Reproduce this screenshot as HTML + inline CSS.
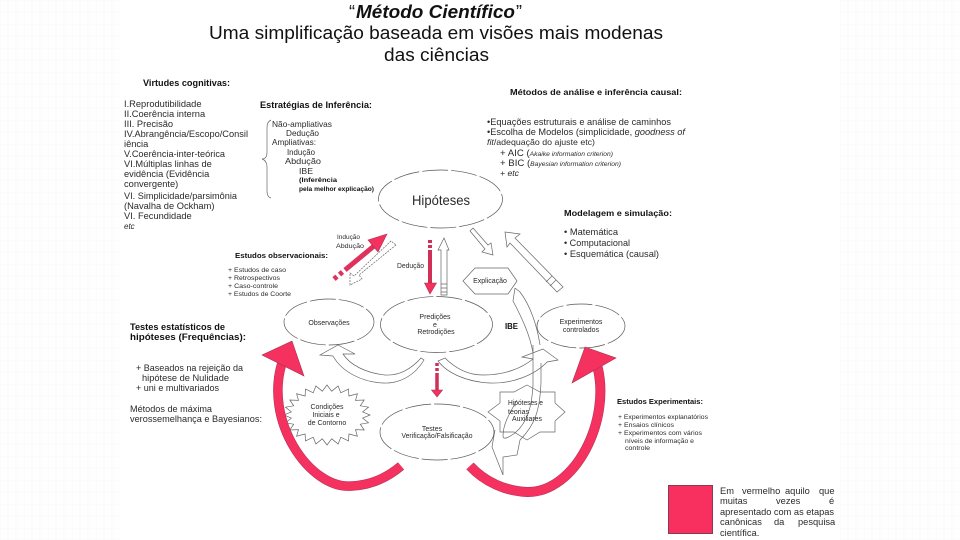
<!DOCTYPE html>
<html lang="pt"><head><meta charset="utf-8"><title>Método Científico</title>
<style>
html,body{margin:0;padding:0;width:960px;height:540px;overflow:hidden;background:#fff}
svg{display:block;filter:blur(.3px)}
text{font-family:"Liberation Sans",sans-serif;fill:#2a2a2a}
.b{font-weight:bold;fill:#111}
.s{stroke:#666;stroke-width:.7;fill:none}
.w{stroke:#666;stroke-width:.7;fill:#fff}
.e{stroke:#555;stroke-width:.7;fill:#fff;stroke-dasharray:26 3}
.r{fill:#f4315f;stroke:#a83353;stroke-width:.6}
.t9{font-size:9.3px}.t7{font-size:7px}.t6{font-size:6.5px}
</style></head><body>
<svg width="960" height="540" viewBox="0 0 960 540" xmlns="http://www.w3.org/2000/svg">
<defs><pattern id="g" width="24" height="24" patternUnits="userSpaceOnUse"><rect width="24" height="24" fill="#fefefe"/><path d="M0 0V24M8 0V24M16 0V24M0 0H24M0 12H24" stroke="#f9f9f9" stroke-width="1"/></pattern></defs>
<rect width="960" height="540" fill="#fff"/>
<rect x="0" y="0" width="120" height="540" fill="url(#g)"/>
<rect x="840" y="0" width="120" height="540" fill="url(#g)"/>

<!-- title -->
<text x="349" y="18" font-size="18" style="fill:#111">“</text>
<text x="356" y="18" font-size="18.5" font-weight="bold" font-style="italic" textLength="159" lengthAdjust="spacingAndGlyphs" style="fill:#111">Método Científico</text>
<text x="516" y="18" font-size="18" style="fill:#111">”</text>
<text x="209" y="39" font-size="18.5" textLength="454" lengthAdjust="spacingAndGlyphs" style="fill:#111">Uma simplificação baseada em visões mais modenas</text>
<text x="384" y="61" font-size="18.5" textLength="105" lengthAdjust="spacingAndGlyphs" style="fill:#111">das ciências</text>

<!-- Virtudes -->
<text class="b" x="143" y="86" font-size="9" textLength="87" lengthAdjust="spacingAndGlyphs">Virtudes cognitivas:</text>
<g class="t9">
<text x="124" y="107">I.Reprodutibilidade</text>
<text x="124" y="117">II.Coerência interna</text>
<text x="124" y="127">III. Precisão</text>
<text x="124" y="137" textLength="124" lengthAdjust="spacingAndGlyphs">IV.Abrangência/Escopo/Consil</text>
<text x="124" y="147">iência</text>
<text x="124" y="157" textLength="101" lengthAdjust="spacingAndGlyphs">V.Coerência-inter-teórica</text>
<text x="124" y="167">VI.Múltiplas linhas de</text>
<text x="124" y="177">evidência (Evidência</text>
<text x="124" y="187">convergente)</text>
<text x="124" y="199" textLength="113" lengthAdjust="spacingAndGlyphs">VI. Simplicidade/parsimônia</text>
<text x="124" y="209">(Navalha de Ockham)</text>
<text x="124" y="219">VI. Fecundidade</text>
<text x="124" y="229" font-style="italic" font-size="8">etc</text>
</g>

<!-- Estrategias -->
<text class="b" x="260" y="108" font-size="9" textLength="112" lengthAdjust="spacingAndGlyphs">Estratégias de Inferência:</text>
<path class="s" d="M271 120C267 122 267 125 267 130V152C267 157 265 159 262 159C265 160 267 162 267 167V190C267 195 268 197 271 198"/>
<text x="272" y="127" font-size="8.5" textLength="60" lengthAdjust="spacingAndGlyphs">Não-ampliativas</text>
<text x="286" y="136" font-size="8.5" textLength="33" lengthAdjust="spacingAndGlyphs">Dedução</text>
<text x="272" y="145" font-size="8" textLength="44" lengthAdjust="spacingAndGlyphs">Ampliativas:</text>
<text x="287" y="155" font-size="8.5" textLength="28" lengthAdjust="spacingAndGlyphs">Indução</text>
<text x="285" y="164" font-size="8.5" textLength="36" lengthAdjust="spacingAndGlyphs">Abdução</text>
<text x="299" y="174" font-size="8.5" textLength="14" lengthAdjust="spacingAndGlyphs">IBE</text>
<text class="b" x="299" y="182" font-size="6" textLength="38" lengthAdjust="spacingAndGlyphs">(Inferência</text>
<text class="b" x="299" y="191" font-size="6" textLength="75" lengthAdjust="spacingAndGlyphs">pela melhor explicação)</text>

<!-- Metodos -->
<text class="b" x="510" y="95" font-size="8.5" textLength="172" lengthAdjust="spacingAndGlyphs">Métodos de análise e inferência causal:</text>
<text x="487" y="125" class="t9" textLength="184" lengthAdjust="spacingAndGlyphs">•Equações estruturais e análise de caminhos</text>
<text x="487" y="135" class="t9" textLength="198" lengthAdjust="spacingAndGlyphs">•Escolha de Modelos (simplicidade, <tspan font-style="italic">goodness of</tspan></text>
<text x="487" y="145" font-size="8.5" textLength="108" lengthAdjust="spacingAndGlyphs"><tspan font-style="italic">fit</tspan>/adequação do ajuste etc)</text>
<text x="500" y="156" class="t9" textLength="113" lengthAdjust="spacingAndGlyphs">+ AIC (<tspan font-style="italic" font-size="6.5">Akaike information criterion)</tspan></text>
<text x="500" y="166" class="t9" textLength="121" lengthAdjust="spacingAndGlyphs">+ BIC (<tspan font-style="italic" font-size="6.5">Bayesian information criterion)</tspan></text>
<text x="500" y="176" font-size="8" font-style="italic" textLength="19" lengthAdjust="spacingAndGlyphs">+ etc</text>

<!-- Modelagem -->
<text class="b" x="564" y="216" font-size="8.5" textLength="108" lengthAdjust="spacingAndGlyphs">Modelagem e simulação:</text>
<text x="564" y="235" class="t9" textLength="54" lengthAdjust="spacingAndGlyphs">• Matemática</text>
<text x="564" y="246" class="t9" textLength="66" lengthAdjust="spacingAndGlyphs">• Computacional</text>
<text x="564" y="257" class="t9" textLength="95" lengthAdjust="spacingAndGlyphs">• Esquemática (causal)</text>

<!-- Observacionais -->
<text x="337" y="239" class="t6" textLength="23" lengthAdjust="spacingAndGlyphs">Indução</text>
<text x="336" y="248" class="t6" textLength="28" lengthAdjust="spacingAndGlyphs">Abdução</text>
<text class="b" x="235" y="258" font-size="7.5" textLength="93" lengthAdjust="spacingAndGlyphs">Estudos observacionais:</text>
<text x="228" y="272" class="t6" textLength="58" lengthAdjust="spacingAndGlyphs">+ Estudos de caso</text>
<text x="228" y="280" class="t6" textLength="52" lengthAdjust="spacingAndGlyphs">+ Retrospectivos</text>
<text x="228" y="288" class="t6" textLength="50" lengthAdjust="spacingAndGlyphs">+ Caso-controle</text>
<text x="228" y="296" class="t6" textLength="63" lengthAdjust="spacingAndGlyphs">+ Estudos de Coorte</text>
<text x="397" y="268" class="t7" textLength="27" lengthAdjust="spacingAndGlyphs">Dedução</text>

<!-- Testes left -->
<text class="b" x="130" y="330" font-size="9.5" textLength="95" lengthAdjust="spacingAndGlyphs">Testes estatísticos de</text>
<text class="b" x="130" y="340" font-size="9.5" textLength="116" lengthAdjust="spacingAndGlyphs">hipóteses (Frequências):</text>
<text x="136" y="371" class="t9" textLength="107" lengthAdjust="spacingAndGlyphs">+ Baseados na rejeição da</text>
<text x="142" y="381" class="t9" textLength="87" lengthAdjust="spacingAndGlyphs">hipótese de Nulidade</text>
<text x="136" y="391" class="t9" textLength="83" lengthAdjust="spacingAndGlyphs">+ uni e multivariados</text>
<text x="130" y="412" class="t9" textLength="82" lengthAdjust="spacingAndGlyphs">Métodos de máxima</text>
<text x="130" y="422" class="t9" textLength="132" lengthAdjust="spacingAndGlyphs">verossemelhança e Bayesianos:</text>

<!-- hollow arrows -->
<path class="w" d="M396 245L359 275L362 279L350 285L350 273L354 276L391 241Z" stroke-dasharray="2 1"/>
<path class="w" d="M441 295V250H438L444 238L449 250H447V295Z"/>
<path class="s" d="M441 284H447M441 288H447M441 292H447"/>
<path class="w" d="M470 231L473 228L488 245L491 243L493 255L482 252L485 249Z"/>
<path class="w" d="M505 232L520 234L515 238L563 287L557 292L510 243L507 247Z"/>
<path class="s" d="M552 276L546 282M556 280L550 286"/>

<!-- curved hollow band left -->
<path class="w" d="M338 345L355 354L343 354C350 365 366 373 385 375C400 376 412 368 421 358L424 360C415 375 400 384 383 383C362 382 342 372 333 356L320 355Z"/>
<!-- curved hollow band right -->
<path class="w" d="M445 358C455 368 468 375 483 375C505 375 522 368 533 359L522 357L543 349L558 360L547 362C535 375 512 384 490 383C468 382 448 374 438 361Z"/>
<!-- Up band to Explicação -->
<path class="s" d="M515 288L520 292C530 305 537 325 540 345M515 288L513 301C522 318 530 335 533 353"/>
<path class="s" d="M533 345V385M541 363V382"/>
<path class="s" d="M533 385C532 405 528 422 515 433C508 438 503 440 503 436C503 425 508 416 517 400"/>
<path class="s" d="M541 382C540 410 535 425 520 440L517 455L503 457V475L492 447L495 430"/>

<!-- ellipses -->
<ellipse class="e" cx="440.5" cy="199" rx="62" ry="29"/>
<ellipse class="e" cx="329" cy="322" rx="45" ry="23"/>
<ellipse class="e" cx="436.5" cy="324.5" rx="56" ry="28"/>
<ellipse class="e" cx="581" cy="326" rx="44" ry="22"/>
<ellipse class="e" cx="437" cy="432" rx="57" ry="28"/>
<polygon class="w" points="463,281 475,268 508,268 517,281 508,294 475,294"/>
<text x="412" y="205" font-size="14" textLength="58" lengthAdjust="spacingAndGlyphs">Hipóteses</text>
<text x="329" y="325" class="t7" text-anchor="middle">Observações</text>
<text x="435" y="319" class="t7" text-anchor="middle">Predições</text>
<text x="435" y="327" class="t7" text-anchor="middle">e</text>
<text x="436" y="334" class="t7" text-anchor="middle">Retrodições</text>
<text x="581" y="324" class="t7" text-anchor="middle">Experimentos</text>
<text x="581" y="332" class="t7" text-anchor="middle">controlados</text>
<text x="490" y="283" class="t7" text-anchor="middle">Explicação</text>
<text class="b" x="505" y="329" font-size="8.5" textLength="13" lengthAdjust="spacingAndGlyphs">IBE</text>
<text x="432" y="431" class="t7" text-anchor="middle">Testes</text>
<text x="437" y="438" class="t7" text-anchor="middle" textLength="71" lengthAdjust="spacingAndGlyphs">Verificação/Falsificação</text>

<!-- burst -->
<polygon class="w" stroke-width=".6" points="370,415 362.7,418.1 368.5,422.8 360.3,424.2 364.2,430 355.5,429.6 357.4,436.2 348.9,434 348.5,441 340.8,437.2 338.1,444 331.7,438.8 327,445 322.3,438.8 315.9,444 313.2,437.2 305.5,441 305.1,434 296.6,436.2 298.5,429.6 289.8,430 293.7,424.2 285.5,422.8 291.3,418.1 284,415 291.3,411.9 285.5,407.2 293.7,405.8 289.8,400 298.5,400.4 296.6,393.8 305.1,396 305.5,389 313.2,392.8 315.9,386 322.3,391.2 327,385 331.7,391.2 338.1,386 340.8,392.8 348.5,389 348.9,396 357.4,393.8 355.5,400.4 364.2,400 360.3,405.8 368.5,407.2 362.7,411.9"/>
<text x="327" y="409" class="t7" text-anchor="middle">Condições</text>
<text x="326" y="417" class="t7" text-anchor="middle">Iniciais e</text>
<text x="327" y="425" class="t7" text-anchor="middle">de Contorno</text>

<!-- star -->
<polygon fill="none" stroke="#666" stroke-width=".7" points="527,385 540,392 555,392 555,403 565,412 555,421 555,432 540,432 527,440 514,432 500,432 500,421 488,412 500,403 500,392 514,392"/>
<text x="508" y="405" class="t7" textLength="35" lengthAdjust="spacingAndGlyphs">Hipóteses e</text>
<text x="508" y="414" class="t7" textLength="21" lengthAdjust="spacingAndGlyphs">teorias</text>
<text x="512" y="421" class="t7" textLength="30" lengthAdjust="spacingAndGlyphs">Auxiliares</text>

<!-- big red arcs -->
<path d="M283 360C262 420 310 490 352 486C372 485 388 477 401 466" fill="none" stroke="#a83353" stroke-width="9.5"/>
<path d="M283 360C262 420 310 490 352 486C372 485 388 477 401 466" fill="none" stroke="#f4315f" stroke-width="8.5"/>
<polygon class="r" points="292,341 262,355 304,376"/>
<path d="M597 365C612 420 575 493 527 492C505 491 485 482 470 466" fill="none" stroke="#a83353" stroke-width="10"/>
<path d="M597 365C612 420 575 493 527 492C505 491 485 482 470 466" fill="none" stroke="#f4315f" stroke-width="9"/>
<polygon class="r" points="585,347 616,358 572,383"/>

<!-- small red arrows -->
<path d="M334 279L337 276.500M339.500 274.500L342.500 272M345 270L374 246" stroke="#e0305c" stroke-width="5" fill="none"/>
<polygon class="r" points="387,234 368,240 378,252"/>
<path d="M430 240V243M430 245V248M430 250V284" stroke="#d02f58" stroke-width="4" fill="none"/>
<polygon class="r" points="430,294 424.500,283 436.500,283"/>
<path d="M437 363V366M437 368V371M437 373V391" stroke="#d02f58" stroke-width="3.500" fill="none"/>
<polygon class="r" points="437,397 431.500,390 442.500,390"/>

<!-- Estudos experimentais -->
<text class="b" x="617" y="404" font-size="7.5" textLength="86" lengthAdjust="spacingAndGlyphs">Estudos Experimentais:</text>
<text x="618" y="419" class="t6" textLength="90" lengthAdjust="spacingAndGlyphs">+ Experimentos explanatórios</text>
<text x="618" y="427" class="t6" textLength="56" lengthAdjust="spacingAndGlyphs">+ Ensaios clínicos</text>
<text x="618" y="435" class="t6" textLength="84" lengthAdjust="spacingAndGlyphs">+ Experimentos com vários</text>
<text x="625" y="443" class="t6" textLength="69" lengthAdjust="spacingAndGlyphs">níveis de informação e</text>
<text x="625" y="450" class="t6" textLength="25" lengthAdjust="spacingAndGlyphs">controle</text>

<!-- legend -->
<rect x="668.500" y="485.500" width="44" height="48" fill="#f8305f" stroke="#8a3a55" stroke-width="1"/>
<g class="t9">
<text x="720" y="494">Em</text><text x="742" y="494">vermelho</text><text x="785" y="494">aquilo</text><text x="819" y="494">que</text>
<text x="720" y="504">muitas</text><text x="776" y="504">vezes</text><text x="829" y="504">é</text>
<text x="720" y="515" textLength="114" lengthAdjust="spacingAndGlyphs">apresentado com as etapas</text>
<text x="720" y="525">canônicas</text><text x="774" y="525">da</text><text x="798" y="525">pesquisa</text>
<text x="720" y="536">científica.</text>
</g>
</svg>
</body></html>
